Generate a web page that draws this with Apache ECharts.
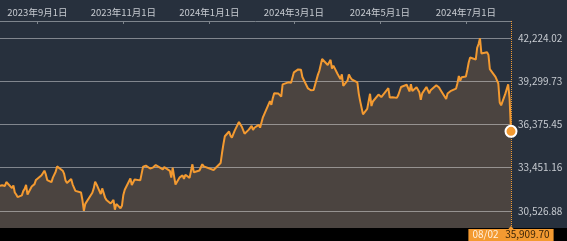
<!DOCTYPE html>
<html><head><meta charset="utf-8">
<script src="https://cdn.jsdelivr.net/npm/echarts@6/dist/echarts.min.js"></script>
<style>html,body{margin:0;padding:0;background:#27303d;overflow:hidden}#c{width:567px;height:241px}</style>
</head><body><div id="c"></div>
<script>
const tradeDates = [
'2023-08-04','2023-08-07','2023-08-08','2023-08-09','2023-08-10','2023-08-14','2023-08-15','2023-08-16','2023-08-17','2023-08-18','2023-08-21','2023-08-22','2023-08-23','2023-08-24','2023-08-25','2023-08-28','2023-08-29','2023-08-30','2023-08-31',
'2023-09-01','2023-09-04','2023-09-05','2023-09-06','2023-09-07','2023-09-08','2023-09-11','2023-09-12','2023-09-13','2023-09-14','2023-09-15','2023-09-19','2023-09-20','2023-09-21','2023-09-22','2023-09-25','2023-09-26','2023-09-27','2023-09-28','2023-09-29',
'2023-10-02','2023-10-03','2023-10-04','2023-10-05','2023-10-06','2023-10-10','2023-10-11','2023-10-12','2023-10-13','2023-10-16','2023-10-17','2023-10-18','2023-10-19','2023-10-20','2023-10-23','2023-10-24','2023-10-25','2023-10-26','2023-10-27','2023-10-30','2023-10-31',
'2023-11-01','2023-11-02','2023-11-06','2023-11-07','2023-11-08','2023-11-09','2023-11-10','2023-11-13','2023-11-14','2023-11-15','2023-11-16','2023-11-17','2023-11-20','2023-11-21','2023-11-22','2023-11-24','2023-11-27','2023-11-28','2023-11-29','2023-11-30',
'2023-12-01','2023-12-04','2023-12-05','2023-12-06','2023-12-07','2023-12-08','2023-12-11','2023-12-12','2023-12-13','2023-12-14','2023-12-15','2023-12-18','2023-12-19','2023-12-20','2023-12-21','2023-12-22','2023-12-25','2023-12-26','2023-12-27','2023-12-28','2023-12-29',
'2024-01-04','2024-01-05','2024-01-09','2024-01-10','2024-01-11','2024-01-12','2024-01-15','2024-01-16','2024-01-17','2024-01-18','2024-01-19','2024-01-22','2024-01-23','2024-01-24','2024-01-25','2024-01-26','2024-01-29','2024-01-30','2024-01-31',
'2024-02-01','2024-02-02','2024-02-05','2024-02-06','2024-02-07','2024-02-08','2024-02-09','2024-02-13','2024-02-14','2024-02-15','2024-02-16','2024-02-19','2024-02-20','2024-02-21','2024-02-22','2024-02-26','2024-02-27','2024-02-28','2024-02-29',
'2024-03-01','2024-03-04','2024-03-05','2024-03-06','2024-03-07','2024-03-08','2024-03-11','2024-03-12','2024-03-13','2024-03-14','2024-03-15','2024-03-18','2024-03-19','2024-03-21','2024-03-22','2024-03-25','2024-03-26','2024-03-27','2024-03-28','2024-03-29',
'2024-04-01','2024-04-02','2024-04-03','2024-04-04','2024-04-05','2024-04-08','2024-04-09','2024-04-10','2024-04-11','2024-04-12','2024-04-15','2024-04-16','2024-04-17','2024-04-18','2024-04-19','2024-04-22','2024-04-23','2024-04-24','2024-04-25','2024-04-26','2024-04-30',
'2024-05-01','2024-05-02','2024-05-07','2024-05-08','2024-05-09','2024-05-10','2024-05-13','2024-05-14','2024-05-15','2024-05-16','2024-05-17','2024-05-20','2024-05-21','2024-05-22','2024-05-23','2024-05-24','2024-05-27','2024-05-28','2024-05-29','2024-05-30','2024-05-31',
'2024-06-03','2024-06-04','2024-06-05','2024-06-06','2024-06-07','2024-06-10','2024-06-11','2024-06-12','2024-06-13','2024-06-14','2024-06-17','2024-06-18','2024-06-19','2024-06-20','2024-06-21','2024-06-24','2024-06-25','2024-06-26','2024-06-27','2024-06-28',
'2024-07-01','2024-07-02','2024-07-03','2024-07-04','2024-07-05','2024-07-08','2024-07-09','2024-07-10','2024-07-11','2024-07-12','2024-07-16','2024-07-17','2024-07-18','2024-07-19','2024-07-22','2024-07-23','2024-07-24','2024-07-25','2024-07-26','2024-07-29','2024-07-30','2024-07-31',
'2024-08-01','2024-08-02'
];
const closes = [
32192,32254,32377,32204,32474,32059,32239,31767,31626,31451,31566,31856,32010,32288,31625,32170,32227,32333,32619,
32711,32939,33036,33241,32992,32607,32468,32776,32707,33168,33534,33243,33024,32571,32403,32679,32316,32372,31873,31858,
31760,31238,30526.88,30995,30995,31747,32041,32495,32316,31660,32041,32043,31431,31260,31019,31063,31270,30602,30992,30697,30859,
31602,31950,32709,32272,32166,32647,32568,32586,32696,33520,33424,33585,33389,33354,33452,33626,33448,33409,33322,33487,
33432,33232,32776,33446,32858,32308,32792,32844,32926,32687,32971,32759,33220,33675,33141,33170,33255,33306,33682,33540,33464,
33288,33377,33763,34441,35049,35577,35901,35620,35478,35466,35963,36547,36517,36226,36236,35751,36027,36066,36287,
36011,36158,36355,36160,36120,36864,36897,37964,37704,38157,38487,38470,38364,38262,39099,39234,39240,39208,39166,
39911,40110,40098,40091,39599,39689,38820,38797,38696,38807,38708,39740,40004,40816,40888,40414,40398,40763,40168,40369,
39803,39839,39451,39773,38992,39347,39773,39582,39443,39524,39233,38472,37962,38080,37068,37439,37553,38461,37629,37935,38406,
38274,38236,38835,38203,38074,38229,38180,38356,38386,38920,38787,39070,38947,38617,39103,38647,38900,38856,38557,38054,38488,
38923,38837,38490,38704,38684,39039,39135,38877,38721,38815,38103,38482,38571,38634,38596,38805,39174,39668,39342,39583,
39631,40074,40581,40914,40913,40781,41580,41832,42224.02,41191,41275,41098,40126,40064,39599,39594,39155,37870,37668,38469,38526,39102,
38126,35909.70
];
const xTickDates = ['2023-09-01','2023-11-01','2024-01-01','2024-03-01','2024-05-01','2024-07-01'];
const yTickValues = [30526.88, 33451.16, 36375.45, 39299.73, 42224.02];
const xStart = '2023-08-05T12:00';

function toTs(s) {
  const [d, t] = s.split('T');
  const [y, m, dd] = d.split('-').map(Number);
  let h = 0, mi = 0;
  if (t) { [h, mi] = t.split(':').map(Number); }
  return new Date(y, m - 1, dd, h, mi).getTime();
}
const ORANGE = '#f39a31';
const FONT = '"Noto Sans CJK JP", "Noto Sans", sans-serif';
const fmtNum = v => Number(v).toLocaleString('en-US', {minimumFractionDigits: 2, maximumFractionDigits: 2});
const pts = tradeDates.map((d, i) => [toTs(d), closes[i]]);
const lastPt = pts[pts.length - 1];
const lo = yTickValues[0], hi = yTickValues[yTickValues.length - 1];
const yMin = lo - (hi - lo) * 0.1, yMax = hi + (hi - lo) * 0.1;
const lastDate = new Date(lastPt[0]);
const lastLabel = String(lastDate.getMonth() + 1).padStart(2, '0') + '/' + String(lastDate.getDate()).padStart(2, '0');
const xTickTs = xTickDates.map(toTs);

const chart = echarts.init(document.getElementById('c'), null, {renderer: 'canvas'});
chart.setOption({
  animation: false,
  backgroundColor: '#27303d',
  grid: {left: 0, right: 56, top: 21, bottom: 13},
  graphic: [{type: 'rect', left: 0, bottom: 0, z: 0, shape: {width: 567, height: 13}, style: {fill: '#000'}}],
  xAxis: {
    type: 'value', position: 'top', min: toTs(xStart), max: lastPt[0],
    axisLine: {show: true, lineStyle: {color: '#7e858d', width: 1}},
    axisTick: {show: true, inside: true, length: 3, customValues: xTickTs, lineStyle: {color: '#7e858d'}},
    axisLabel: {
      customValues: xTickTs, color: '#c6cad0', fontSize: 9.5, fontFamily: FONT, margin: 4,
      formatter: v => { const d = new Date(v); return d.getFullYear() + '年' + (d.getMonth() + 1) + '月' + d.getDate() + '日'; }
    },
    splitLine: {show: false}
  },
  yAxis: {
    type: 'value', position: 'right', min: yMin, max: yMax, z: 2,
    axisLine: {show: false},
    axisTick: {show: false, customValues: yTickValues},
    axisLabel: {customValues: yTickValues, formatter: fmtNum, color: '#c6cad0', fontSize: 10, fontFamily: FONT, margin: 7},
    splitLine: {show: true, lineStyle: {color: 'rgba(255,255,255,0.42)', width: 1}}
  },
  series: [
    {
      type: 'line', data: pts, z: 1, showSymbol: false, silent: true, clip: false,
      lineStyle: {width: 0, opacity: 0},
      areaStyle: {color: '#4b4440', opacity: 1}
    },
    {
      type: 'line', data: pts, z: 3, showSymbol: false, silent: true, clip: false,
      lineStyle: {width: 2, color: ORANGE},
      markLine: {
        silent: true, symbol: ['none', 'none'], animation: false,
        lineStyle: {type: 'dotted', color: ORANGE, width: 1},
        emphasis: {disabled: true},
        label: {
          show: true, position: 'start', distance: 1,
          backgroundColor: ORANGE, padding: [0, 4, 2, 4], lineHeight: 11,
          formatter: () => '{a|' + lastLabel + '}  {b|' + fmtNum(lastPt[1]) + '}',
          rich: {
            a: {color: '#fff0de', fontSize: 10, fontFamily: FONT, lineHeight: 11},
            b: {color: '#3a2408', fontSize: 10, fontFamily: FONT, lineHeight: 11}
          }
        },
        data: [{xAxis: lastPt[0]}]
      },
      markPoint: {
        silent: true, animation: false,
        label: {show: false},
        data: [
          {coord: [lastPt[0], yMin], symbol: 'triangle', symbolSize: [7, 4], symbolOffset: [0, 0], itemStyle: {color: ORANGE}},
          {coord: [lastPt[0], lastPt[1]], symbol: 'circle', symbolSize: 11, itemStyle: {color: ORANGE, borderColor: '#ffffff', borderWidth: 2}}
        ]
      }
    }
  ]
});
</script>
</body></html>
